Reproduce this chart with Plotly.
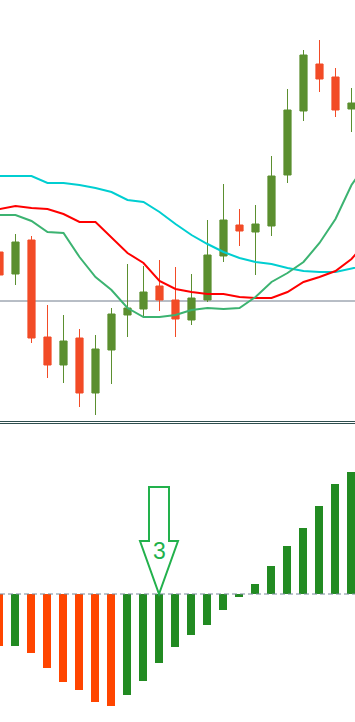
import plotly.graph_objects as go

# ---------------- data ----------------
idx = list(range(23))
ma_idx = list(range(24))  # averages continue one bar past the right edge

open_ = [1.1168, 1.1146, 1.1180, 1.1083, 1.1055, 1.1082, 1.1027, 1.1070, 1.1105, 1.1111, 1.1134, 1.1120,
         1.1100, 1.1120, 1.1164, 1.1195, 1.1188, 1.1194, 1.1245, 1.1309, 1.1356, 1.1343, 1.1311]
high = [1.1175, 1.1186, 1.1184, 1.1115, 1.1105, 1.1091, 1.1085, 1.1112, 1.1156, 1.1154, 1.1160, 1.1153,
        1.1146, 1.1200, 1.1236, 1.1211, 1.1215, 1.1264, 1.1331, 1.1370, 1.1380, 1.1352, 1.1332]
low = [1.1138, 1.1135, 1.1077, 1.1042, 1.1037, 1.1013, 1.1005, 1.1036, 1.1083, 1.1104, 1.1109, 1.1083,
       1.1095, 1.1118, 1.1158, 1.1174, 1.1145, 1.1184, 1.1237, 1.1299, 1.1328, 1.1303, 1.1288]
close = [1.1145, 1.1178, 1.1082, 1.1055, 1.1079, 1.1027, 1.1071, 1.1106, 1.1112, 1.1128, 1.1120, 1.1101,
         1.1122, 1.1165, 1.1200, 1.1189, 1.1196, 1.1244, 1.1310, 1.1365, 1.1341, 1.1310, 1.1317]

ma_cyan = [1.1244, 1.1244, 1.1244, 1.1237, 1.1237, 1.1235, 1.1232, 1.1228, 1.1220, 1.1218, 1.1208, 1.1196,
           1.1185, 1.1176, 1.1168, 1.1162, 1.1158, 1.1156, 1.1152, 1.1149, 1.1148, 1.1148, 1.1152, 1.1155]
ma_red = [1.1211, 1.1214, 1.1212, 1.1211, 1.1206, 1.1198, 1.1198, 1.1183, 1.1167, 1.1157, 1.1139, 1.1131,
          1.1128, 1.1126, 1.1126, 1.1123, 1.1122, 1.1122, 1.1128, 1.1138, 1.1143, 1.1149, 1.1161, 1.1179]
ma_green = [1.1205, 1.1205, 1.1199, 1.1188, 1.1187, 1.1163, 1.1143, 1.1130, 1.1112, 1.1103, 1.1103, 1.1105,
            1.1110, 1.1112, 1.1111, 1.1112, 1.1123, 1.1138, 1.1147, 1.1158, 1.1177, 1.1201, 1.1235, 1.1258]

level = 1.1119

hist = [-5.2, -5.2, -5.9, -7.4, -8.8, -9.6, -10.8, -11.2, -10.1, -8.7, -6.9, -5.3,
        -4.1, -3.1, -1.6, -0.3, 1.0, 2.8, 4.8, 6.6, 8.8, 11.0, 12.2]

signal_index = 10
signal_label = "3"

# ---------------- styling ----------------
C_UP = "#5B8F2F"
C_DN = "#F24B26"
H_UP = "#228B22"
H_DN = "#FF4500"
ARROW = "#22B14C"

W, H = 355, 722
top_px = 420
bot_px = 424

hist_colors = [H_DN] + [H_UP if hist[i] >= hist[i - 1] else H_DN for i in range(1, len(hist))]

fig = go.Figure()

fig.add_trace(go.Candlestick(
    x=idx, open=open_, high=high, low=low, close=close,
    increasing=dict(fillcolor=C_UP, line=dict(color=C_UP, width=1)),
    decreasing=dict(fillcolor=C_DN, line=dict(color=C_DN, width=1)),
    whiskerwidth=0, hoverinfo="skip", showlegend=False,
    xaxis="x", yaxis="y",
))

for vals, col in [(ma_cyan, "#00CED1"), (ma_red, "#FF0000"), (ma_green, "#3CB371")]:
    fig.add_trace(go.Scatter(x=ma_idx, y=vals, mode="lines", line=dict(color=col, width=2),
                             hoverinfo="skip", showlegend=False, xaxis="x", yaxis="y"))

fig.add_trace(go.Bar(x=idx, y=hist, marker=dict(color=hist_colors, line=dict(width=0)),
                     width=0.5, hoverinfo="skip", showlegend=False, xaxis="x2", yaxis="y2"))

# arrow geometry (in axis units relative to signal bar)
sx = signal_index
shaft_hw, head_hw = 0.625, 1.1875
head_base, shaft_top = 5.3, 10.7
arrow_path = (f"M {sx - shaft_hw},{shaft_top} L {sx + shaft_hw},{shaft_top} "
              f"L {sx + shaft_hw},{head_base} L {sx + head_hw},{head_base} L {sx},0 "
              f"L {sx - head_hw},{head_base} L {sx - shaft_hw},{head_base} Z")

shapes = [
    dict(type="line", xref="paper", x0=0, x1=1, yref="y", y0=level, y1=level,
         line=dict(color="#707C8C", width=1), layer="below"),
    dict(type="line", xref="paper", x0=0, x1=1, yref="y2", y0=0, y1=0,
         line=dict(color="#778899", width=1, dash="5px,3px"), layer="above"),
    dict(type="line", xref="paper", x0=0, x1=1, yref="paper",
         y0=1 - 421.5 / H, y1=1 - 421.5 / H, line=dict(color="#2F4F4F", width=1)),
    dict(type="line", xref="paper", x0=0, x1=1, yref="paper",
         y0=1 - 423.5 / H, y1=1 - 423.5 / H, line=dict(color="#2F4F4F", width=1)),
    dict(type="path", xref="x2", yref="y2", path=arrow_path,
         line=dict(color=ARROW, width=2), fillcolor="rgba(0,0,0,0)"),
]

annotations = [
    dict(x=sx, y=4.35, xref="x2", yref="y2", text=signal_label, showarrow=False,
         font=dict(family="Liberation Sans, Arial", size=23, color=ARROW),
         xanchor="center", yanchor="middle"),
]

ax_common = dict(visible=False, showgrid=False, zeroline=False, fixedrange=True)

fig.update_layout(
    width=W, height=H,
    margin=dict(l=0, r=0, t=0, b=0),
    paper_bgcolor="white", plot_bgcolor="white",
    showlegend=False,
    boxgap=0.36,
    xaxis=dict(domain=[0, 1], range=[0.5 / 16, 355.5 / 16], anchor="y",
               rangeslider=dict(visible=False), **ax_common),
    yaxis=dict(domain=[(H - top_px) / H, 1], range=[1.1000, 1.1420], anchor="x", **ax_common),
    xaxis2=dict(domain=[0, 1], range=[1 / 16, 356 / 16], anchor="y2", **ax_common),
    yaxis2=dict(domain=[0, (H - bot_px) / H], range=[-12.8, 17.0], anchor="x2", **ax_common),
    shapes=shapes,
    annotations=annotations,
)

fig.write_html("out.html")
